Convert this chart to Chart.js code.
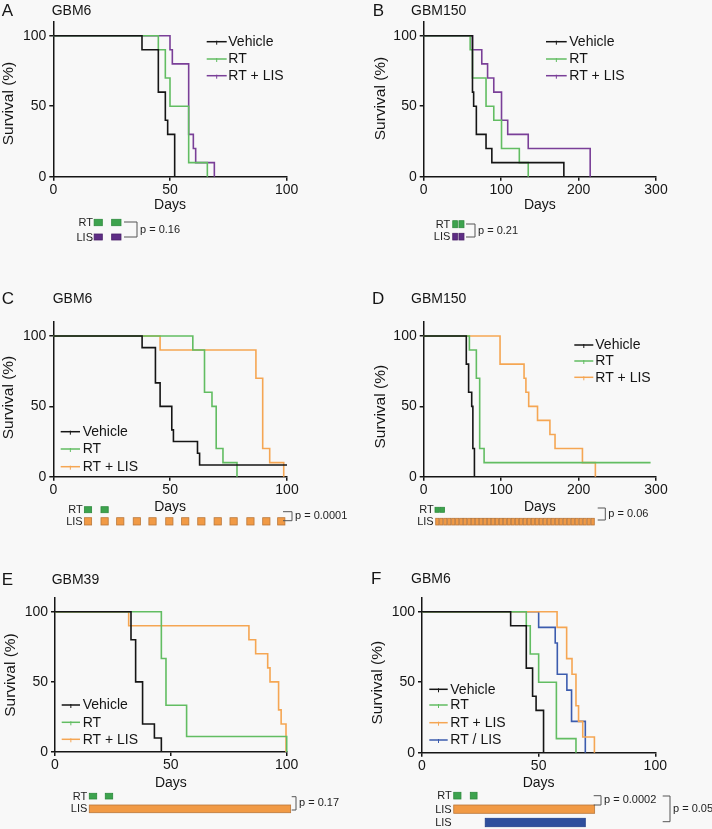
<!DOCTYPE html>
<html>
<head>
<meta charset="utf-8">
<script src="https://cdn.jsdelivr.net/npm/chart.js@4.4.1/dist/chart.umd.min.js"></script>
<style>
  html, body { margin: 0; padding: 0; background: #f8f8f8; }
  #fig { position: relative; width: 712px; height: 829px; overflow: hidden; }
  .pane { position: absolute; }
</style>
</head>
<body>
<div id="fig">
  <div class="pane" style="left:0;top:0"><canvas id="cA" width="356" height="260"></canvas></div>
  <div class="pane" style="left:356px;top:0"><canvas id="cB" width="356" height="260"></canvas></div>
  <div class="pane" style="left:0;top:260px"><canvas id="cC" width="356" height="280"></canvas></div>
  <div class="pane" style="left:356px;top:260px"><canvas id="cD" width="356" height="280"></canvas></div>
  <div class="pane" style="left:0;top:540px"><canvas id="cE" width="356" height="289"></canvas></div>
  <div class="pane" style="left:356px;top:540px"><canvas id="cF" width="356" height="289"></canvas></div>
</div>
<script>
// data (days / % survival) ======================================================
const seriesNames = ["Vehicle", "RT", "RT + LIS"];
const seriesNamesF = ["Vehicle", "RT", "RT + LIS", "RT / LIS"];
const yTicks = [0, 50, 100];
const xTicks100 = [0, 50, 100];
const xTicks300 = [0, 100, 200, 300];

// A - GBM6
const aVehDays = [0, 38, 45, 48, 49, 52];
const aVehSurv = [100, 90, 60, 40, 30, 0];
const aRtDays = [0, 45, 48, 50, 58, 66];
const aRtSurv = [100, 90, 70, 50, 10, 0];
const aLisDays = [0, 50, 51, 58, 60, 61, 69];
const aLisSurv = [100, 90, 80, 30, 20, 10, 0];
const aRtDoses = [[17.5, 21], [25, 29]];
const aLisDoses = [[17.5, 21], [25, 29]];

// B - GBM150
const bVehDays = [0, 63, 64.5, 68, 80.5, 88, 181];
const bVehSurv = [100, 60, 50, 30, 20, 10, 0];
const bRtDays = [0, 60, 63, 80.5, 90.5, 100.5, 123.5, 135];
const bRtSurv = [100, 90, 70, 50, 40, 20, 10, 0];
const bLisDays = [0, 63, 75, 82.5, 90.5, 100.5, 108.5, 135, 215];
const bLisSurv = [100, 90, 80, 70, 60, 40, 30, 20, 0];
const bRtDoses = [[37.5, 43.5], [45.5, 52]];
const bLisDoses = [[37.5, 43.5], [45.5, 52]];

// C - GBM6
const cVehDays = [0, 38, 43.7, 45.7, 50.7, 51.4, 61.7, 62.6, 100];
const cVehSurv = [100, 91.7, 66.7, 50, 33.3, 25, 16.7, 8.3, 8.3];
const cRtDays = [0, 59.7, 64.7, 67.9, 69.7, 72.6, 78.6];
const cRtSurv = [100, 90, 60, 50, 20, 10, 0];
const cLisDays = [0, 45.7, 86.7, 89.6, 92.6, 98.6];
const cLisSurv = [100, 90, 70, 20, 10, 0];
const cRtDoses = [[13.3, 16.4], [20.4, 23.5]];
const cLisStarts = [13.3, 20.4, 27.1, 34.2, 40.9, 48.1, 54.9, 61.8, 68.8, 75.6, 82.8, 89.6, 96.0];

// D - GBM150
const dVehDays = [0, 55, 58, 62, 63.5, 65.5];
const dVehSurv = [100, 80, 60, 50, 20, 0];
const dRtDays = [0, 59, 68, 72.3, 78, 293];
const dRtSurv = [100, 90, 70, 20, 10, 10];
const dLisDays = [0, 98.6, 129.6, 132, 135.6, 147, 163, 169.6, 205, 221.7];
const dLisSurv = [100, 80, 70, 60, 50, 40, 30, 20, 10, 0];
const dRtDoses = [[14.6, 20.2], [21.2, 26.8]];
const dLisStarts = [15.5, 20.6, 25.8, 30.9, 36.1, 41.2, 46.4, 51.5, 56.7, 61.8, 67.0, 72.1, 77.3, 82.4,
  87.6, 92.7, 97.9, 103.0, 108.2, 113.3, 118.5, 123.6, 128.8, 133.9, 139.1, 144.2, 149.4, 154.5,
  159.7, 164.8, 170.0, 175.1, 180.3, 185.4, 190.6, 195.7, 200.9, 206.0, 211.2, 216.3];

// E - GBM39
const eVehDays = [0, 32.8, 34.8, 37.8, 42.9, 45.9];
const eVehSurv = [100, 80, 50, 20, 10, 0];
const eRtDays = [0, 45.9, 47.9, 56.8, 100];
const eRtSurv = [100, 66.7, 33.3, 11.1, 0];
const eLisDays = [0, 31.8, 83.7, 86.6, 91.8, 92.8, 96.5, 97.6, 99.7];
const eLisSurv = [100, 90, 80, 70, 60, 50, 30, 20, 0];
const eRtDoses = [[14.8, 18], [21.7, 24.9]];
const eLisDoses = [[14.8, 101.7]];

// F - GBM6
const fVehDays = [0, 38, 44.7, 47.4, 48.9, 52.1];
const fVehSurv = [100, 90, 60, 40, 30, 0];
const fRtDays = [0, 44.7, 46.4, 50, 57.6, 66];
const fRtSurv = [100, 90, 70, 50, 10, 0];
const fLisDays = [0, 57.9, 62, 64.3, 66, 67.1, 68.9, 73.9];
const fLisSurv = [100, 88.9, 66.7, 55.6, 33.3, 22.2, 11.1, 0];
const fSeqDays = [0, 50, 57.1, 58, 62.1, 64.1, 70];
const fSeqSurv = [100, 88.9, 77.8, 55.6, 44.4, 22.2, 0];
const fRtDoses = [[13.6, 16.7], [20.7, 23.6]];
const fLisDoses = [[13.6, 74]];
const fSeqDoses = [[27.1, 70]];

// styles ======================================================================
const FONT = "'Liberation Sans', Arial, Helvetica, sans-serif";
const INK = "#151515";
const C_VEH = "#151515", C_RT = "#62bd62", C_PUR = "#7a3f98", C_ORA = "#f5a653", C_BLU = "#3c5cae";
const SQ_GREEN = ["#3da34e", "#2d8a3c"], SQ_PUR = ["#5e2d85", "#4a2068"];
const SQ_ORA = ["#f19a45", "#b9773a"], SQ_BLU = ["#2f4f9d", "#23408a"];
Chart.defaults.font.family = FONT;

function pts(xs, ys) { return xs.map((x, i) => ({ x: x, y: ys[i] })); }
function spans(starts, w) { return starts.map(s => [s, s + w]); }

// decorations: panel letter, title, y title, legend, dosing rows, p brackets
const deco = {
    id: 'deco',
    afterDraw(chart, args, o) {
        const ctx = chart.ctx, xs = chart.scales.x;
        ctx.save();
        ctx.fillStyle = INK;
        ctx.textBaseline = 'middle';
        ctx.textAlign = 'left';
        ctx.font = '17px ' + FONT;
        ctx.fillText(o.letter, o.letterX, o.headY);
        ctx.font = '14px ' + FONT;
        ctx.fillText(o.title, o.titleX, o.headY);
        // y axis title
        ctx.save();
        ctx.translate(o.survX, o.survY);
        ctx.rotate(-Math.PI / 2);
        ctx.textAlign = 'center';
        ctx.font = '15.5px ' + FONT;
        ctx.fillText('Survival (%)', 0, 0);
        ctx.restore();
        // legend
        o.legend.ys.forEach((y, i) => {
            const ds = chart.data.datasets[i];
            ctx.strokeStyle = ds.borderColor;
            ctx.lineWidth = 1.5;
            ctx.beginPath();
            ctx.moveTo(o.legend.x0, y); ctx.lineTo(o.legend.x1, y);
            ctx.stroke();
            const xm = (o.legend.x0 + o.legend.x1) / 2;
            ctx.lineWidth = 1;
            ctx.beginPath();
            ctx.moveTo(xm, y - 1); ctx.lineTo(xm, y + 3);
            ctx.stroke();
            ctx.fillStyle = INK;
            ctx.font = '14px ' + FONT;
            ctx.fillText(ds.label, o.legend.tx, y + 0.5);
        });
        // dosing rows
        o.rows.forEach(r => {
            ctx.fillStyle = '#222';
            ctx.font = '11px ' + FONT;
            ctx.textAlign = 'right';
            ctx.fillText(r.label, o.labelX, (r.y0 + r.y1) / 2 + 0.5);
            r.spans.forEach(sp => {
                const a = xs.getPixelForValue(sp[0]), b = xs.getPixelForValue(sp[1]);
                ctx.fillStyle = r.color[0];
                ctx.fillRect(a, r.y0, b - a, r.y1 - r.y0);
                ctx.strokeStyle = r.color[1];
                ctx.lineWidth = 0.8;
                ctx.strokeRect(a, r.y0, b - a, r.y1 - r.y0);
            });
        });
        // brackets
        ctx.textAlign = 'left';
        o.brackets.forEach(k => {
            ctx.strokeStyle = '#555';
            ctx.lineWidth = 1;
            ctx.beginPath();
            ctx.moveTo(k.x0, k.y0); ctx.lineTo(k.x1, k.y0);
            ctx.lineTo(k.x1, k.y1); ctx.lineTo(k.x0, k.y1);
            ctx.stroke();
            ctx.fillStyle = '#222';
            ctx.font = '11px ' + FONT;
            ctx.fillText(k.text, k.x1 + 3, (k.y0 + k.y1) / 2);
        });
        ctx.restore();
    }
};

function makePanel(id, g, sets, xMax, xTicks, dec) {
    const datasets = sets.map(s => ({
        label: s[0],
        data: pts(s[1], s[2]),
        borderColor: s[3],
        borderWidth: 1.6,
        stepped: 'before',
        pointRadius: 0,
        fill: false,
        clip: false
    }));
    const cv = document.getElementById(id);
    return new Chart(cv, {
        type: 'line',
        data: { datasets: datasets },
        options: {
            responsive: false,
            animation: false,
            events: [],
            layout: { padding: { left: 0, top: g.top, right: cv.width - g.right, bottom: cv.height - g.bottom - 40 } },
            plugins: { legend: { display: false }, tooltip: { enabled: false }, deco: dec },
            scales: {
                x: {
                    type: 'linear', min: 0, max: xMax,
                    afterBuildTicks: s => { s.ticks = xTicks.map(v => ({ value: v })); },
                    afterFit: s => { s.height = 40; },
                    border: { color: INK, width: 1.5 },
                    grid: { drawOnChartArea: false, drawTicks: true, tickLength: 4, color: INK, lineWidth: 1.5 },
                    ticks: { color: INK, font: { size: 14 }, padding: 1, maxRotation: 0 },
                    title: { display: true, text: 'Days', color: INK, font: { size: 14 }, padding: { top: 0, bottom: g.dayPad } }
                },
                y: {
                    type: 'linear', min: 0, max: 110,
                    afterBuildTicks: s => { s.ticks = yTicks.map(v => ({ value: v })); },
                    afterFit: s => { s.width = g.left; },
                    border: { color: INK, width: 1.5 },
                    grid: { drawOnChartArea: false, drawTicks: true, tickLength: 4, color: INK, lineWidth: 1.5 },
                    ticks: { color: INK, font: { size: 14 }, padding: 3 }
                }
            }
        },
        plugins: [deco]
    });
}

// A
makePanel('cA', { left: 53.3, right: 286.7, top: 21.6, bottom: 176.7, dayPad: 3.3 },
    [[seriesNames[0], aVehDays, aVehSurv, C_VEH], [seriesNames[1], aRtDays, aRtSurv, C_RT], [seriesNames[2], aLisDays, aLisSurv, C_PUR]],
    100, xTicks100,
    {
        letter: 'A', letterX: 1.7, title: 'GBM6', titleX: 51.7, headY: 11, survX: 9, survY: 103.5,
        legend: { x0: 206.7, x1: 226.7, tx: 228.3, ys: [41.7, 59, 75.7] },
        labelX: 93,
        rows: [{ label: 'RT', y0: 219.3, y1: 225.7, color: SQ_GREEN, spans: aRtDoses },
               { label: 'LIS', y0: 234, y1: 240, color: SQ_PUR, spans: aLisDoses }],
        brackets: [{ x0: 124, x1: 137, y0: 222, y1: 237, text: 'p = 0.16' }]
    });

// B
makePanel('cB', { left: 67.7, right: 300, top: 21.6, bottom: 176.7, dayPad: 3.3 },
    [[seriesNames[0], bVehDays, bVehSurv, C_VEH], [seriesNames[1], bRtDays, bRtSurv, C_RT], [seriesNames[2], bLisDays, bLisSurv, C_PUR]],
    300, xTicks300,
    {
        letter: 'B', letterX: 16.7, title: 'GBM150', titleX: 55, headY: 11, survX: 25, survY: 98.5,
        legend: { x0: 190, x1: 210.7, tx: 213.3, ys: [41.7, 59, 75.7] },
        labelX: 94.3,
        rows: [{ label: 'RT', y0: 220.7, y1: 227.7, color: SQ_GREEN, spans: bRtDoses },
               { label: 'LIS', y0: 233.3, y1: 240, color: SQ_PUR, spans: bLisDoses }],
        brackets: [{ x0: 110, x1: 119, y0: 224, y1: 237, text: 'p = 0.21' }]
    });

// C
makePanel('cC', { left: 53.3, right: 287, top: 61.9, bottom: 216.7, dayPad: 1.6 },
    [[seriesNames[0], cVehDays, cVehSurv, C_VEH], [seriesNames[1], cRtDays, cRtSurv, C_RT], [seriesNames[2], cLisDays, cLisSurv, C_ORA]],
    100, xTicks100,
    {
        letter: 'C', letterX: 1.7, title: 'GBM6', titleX: 52.7, headY: 39, survX: 9, survY: 137.5,
        legend: { x0: 60.7, x1: 80, tx: 82.7, ys: [171.7, 189, 206.7] },
        labelX: 82.7,
        rows: [{ label: 'RT', y0: 246.7, y1: 252.7, color: SQ_GREEN, spans: cRtDoses },
               { label: 'LIS', y0: 257.7, y1: 265, color: SQ_ORA, spans: spans(cLisStarts, 3.1) }],
        brackets: [{ x0: 283, x1: 292, y0: 251.7, y1: 260.7, text: 'p = 0.0001' }]
    });

// D
makePanel('cD', { left: 67.7, right: 300, top: 61.9, bottom: 216.7, dayPad: 1.6 },
    [[seriesNames[0], dVehDays, dVehSurv, C_VEH], [seriesNames[1], dRtDays, dRtSurv, C_RT], [seriesNames[2], dLisDays, dLisSurv, C_ORA]],
    300, xTicks300,
    {
        letter: 'D', letterX: 16, title: 'GBM150', titleX: 55, headY: 39, survX: 25, survY: 146.7,
        legend: { x0: 218.3, x1: 237.3, tx: 239.3, ys: [85, 101, 117.3] },
        labelX: 77.7,
        rows: [{ label: 'RT', y0: 247.3, y1: 252.3, color: SQ_GREEN, spans: dRtDoses },
               { label: 'LIS', y0: 258.3, y1: 265, color: SQ_ORA, spans: spans(dLisStarts, 4) }],
        brackets: [{ x0: 241.7, x1: 249.3, y0: 248, y1: 260, text: 'p = 0.06' }]
    });

// E
makePanel('cE', { left: 55, right: 286.7, top: 57.7, bottom: 212, dayPad: 0.9 },
    [[seriesNames[0], eVehDays, eVehSurv, C_VEH], [seriesNames[1], eRtDays, eRtSurv, C_RT], [seriesNames[2], eLisDays, eLisSurv, C_ORA]],
    100, xTicks100,
    {
        letter: 'E', letterX: 1.7, title: 'GBM39', titleX: 51.7, headY: 40, survX: 11, survY: 135,
        legend: { x0: 61.7, x1: 80, tx: 82.7, ys: [165, 182.3, 199.3] },
        labelX: 87.3,
        rows: [{ label: 'RT', y0: 253.3, y1: 259, color: SQ_GREEN, spans: eRtDoses },
               { label: 'LIS', y0: 265, y1: 272.7, color: SQ_ORA, spans: eLisDoses }],
        brackets: [{ x0: 291.7, x1: 296, y0: 256.7, y1: 270, text: 'p = 0.17' }]
    });

// F
makePanel('cF', { left: 66, right: 299.3, top: 57.6, bottom: 212.7, dayPad: 1.6 },
    [[seriesNamesF[0], fVehDays, fVehSurv, C_VEH], [seriesNamesF[1], fRtDays, fRtSurv, C_RT],
     [seriesNamesF[2], fLisDays, fLisSurv, C_ORA], [seriesNamesF[3], fSeqDays, fSeqSurv, C_BLU]],
    100, xTicks100,
    {
        letter: 'F', letterX: 15, title: 'GBM6', titleX: 55, headY: 39, survX: 21.7, survY: 142.7,
        legend: { x0: 73.3, x1: 91.7, tx: 94.3, ys: [149.3, 165, 182.7, 200] },
        labelX: 95.7,
        rows: [{ label: 'RT', y0: 252.3, y1: 259, color: SQ_GREEN, spans: fRtDoses },
               { label: 'LIS', y0: 265, y1: 273.3, color: SQ_ORA, spans: fLisDoses },
               { label: 'LIS', y0: 278.3, y1: 286.7, color: SQ_BLU, spans: fSeqDoses }],
        brackets: [{ x0: 237.7, x1: 245, y0: 255.7, y1: 265, text: 'p = 0.0002' },
                   { x0: 306.7, x1: 314, y0: 256, y1: 281.7, text: 'p = 0.05' }]
    });
</script>
</body>
</html>
